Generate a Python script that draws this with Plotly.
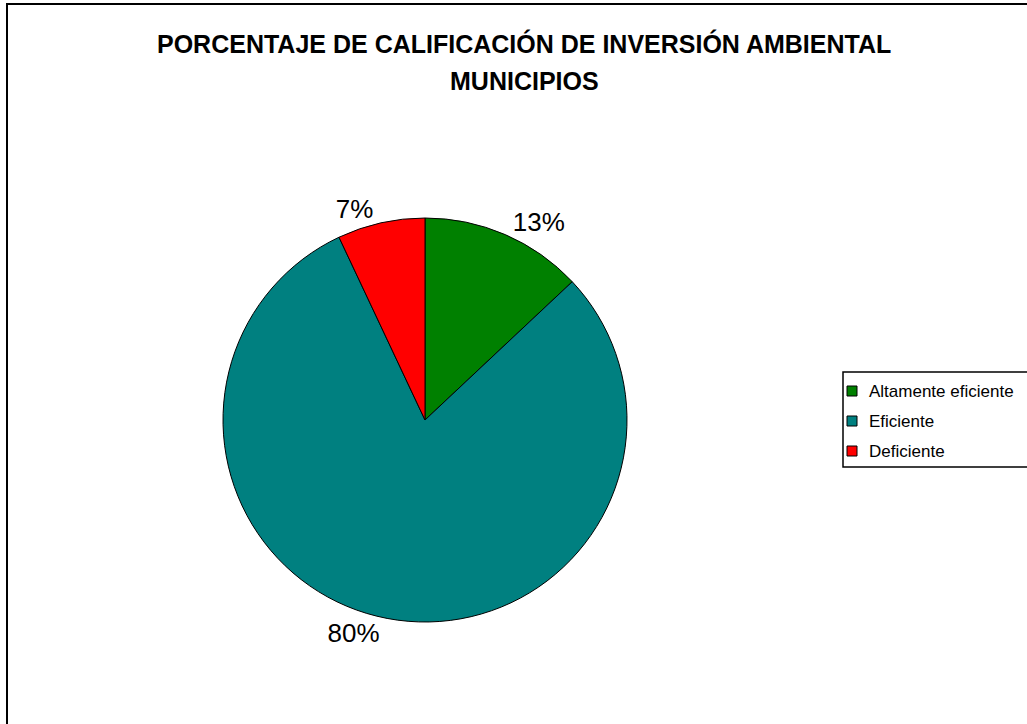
import plotly.graph_objects as go

W, H = 1027, 724

categories = ["Altamente eficiente", "Eficiente", "Deficiente"]
values = [13, 80, 7]
colors = ["#008000", "#008080", "#FF0000"]
title_lines = ["PORCENTAJE DE CALIFICACIÓN DE INVERSIÓN AMBIENTAL", "MUNICIPIOS"]

FONT = "Arial, 'Liberation Sans', sans-serif"

def px(x):
    return x / W

def py(y):
    return 1 - y / H

# pie placement (pixels)
cx, cy, r = 425, 420, 202

fig = go.Figure(go.Pie(
    labels=categories,
    values=values,
    sort=False,
    direction="clockwise",
    rotation=0,
    marker=dict(colors=colors, line=dict(color="black", width=1)),
    textposition="outside",
    texttemplate="%{percent:.0%}",
    textfont=dict(family=FONT, size=26, color="black"),
    showlegend=False,
    automargin=False,
    domain=dict(x=[px(cx - r), px(cx + r)], y=[py(cy + r), py(cy - r)]),
    hoverinfo="label+percent",
))

shapes = []
annotations = []

# outer frame
shapes.append(dict(type="rect", xref="paper", yref="paper",
                   x0=px(7), x1=px(W + 20), y0=py(H + 20), y1=py(4),
                   line=dict(color="black", width=2), fillcolor="rgba(0,0,0,0)"))

# title
annotations.append(dict(text="<b>%s</b>" % title_lines[0], xref="paper", yref="paper",
                        x=px(524), y=py(44), xanchor="center", yanchor="middle",
                        showarrow=False, font=dict(family=FONT, size=25, color="black")))
annotations.append(dict(text="<b>%s</b>" % title_lines[1], xref="paper", yref="paper",
                        x=px(524), y=py(81), xanchor="center", yanchor="middle",
                        showarrow=False, font=dict(family=FONT, size=25, color="black")))

# custom legend
shapes.append(dict(type="rect", xref="paper", yref="paper",
                   x0=px(843), x1=px(W + 20), y0=py(467), y1=py(372),
                   line=dict(color="black", width=1.5), fillcolor="white"))
for i, (cat, col) in enumerate(zip(categories, colors)):
    yc = 391 + 30 * i
    shapes.append(dict(type="rect", xref="paper", yref="paper",
                       x0=px(847), x1=px(857), y0=py(yc + 5), y1=py(yc - 5),
                       line=dict(color="black", width=1), fillcolor=col))
    annotations.append(dict(text=cat, xref="paper", yref="paper",
                            x=px(867), y=py(yc), xanchor="left", yanchor="middle",
                            showarrow=False, font=dict(family=FONT, size=17, color="black")))

fig.update_layout(
    width=W, height=H,
    margin=dict(l=0, r=0, t=0, b=0),
    paper_bgcolor="white",
    plot_bgcolor="white",
    shapes=shapes,
    annotations=annotations,
    showlegend=False,
)

fig.write_html("out.html",
               config={"displayModeBar": False},
               post_script="document.body.style.margin='0';document.body.style.padding='0';")
